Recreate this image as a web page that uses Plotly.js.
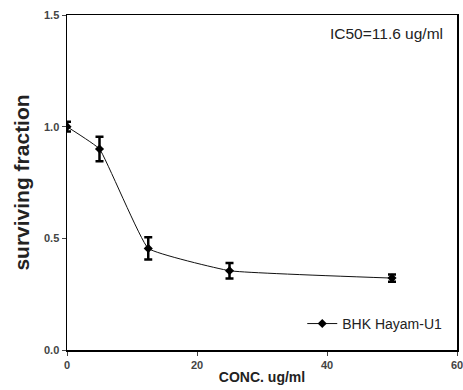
<!DOCTYPE html>
<html><head><meta charset="utf-8">
<script src="https://cdn.plot.ly/plotly-3.0.1.min.js"></script>
<style>html,body{margin:0;padding:0;background:#fff}</style>
</head><body>
<div id="chart" style="width:463px;height:390px"></div>
<script>
var seriesName = "BHK Hayam-U1";
var conc = [0, 5, 12.5, 25, 50];
var survival = [1.0, 0.9, 0.455, 0.355, 0.322];
var errors = [0.022, 0.055, 0.05, 0.035, 0.016];
var xTicks = [0, 20, 40, 60];
var yTicks = [0, 0.5, 1.0, 1.5];
var yTickLabels = ["0.0", "0.5", "1.0", "1.5"];
var annotationText = "IC50=11.6 ug/ml";

var trace = {
  x: conc, y: survival, name: seriesName, type: "scatter", mode: "lines+markers",
  line: {color: "#111", width: 1, shape: "spline", smoothing: 0.3},
  marker: {symbol: "diamond", size: 7, color: "#000"},
  error_y: {type: "data", array: errors, visible: true, color: "#000", thickness: 2.5, width: 4}
};
var layout = {
  width: 463, height: 390,
  margin: {l: 67, r: 6, t: 15, b: 40},
  paper_bgcolor: "#fff", plot_bgcolor: "#fff",
  font: {family: "Arial, Liberation Sans, sans-serif", color: "#000"},
  showlegend: true,
  legend: {x: 0.975, y: 0.03, xanchor: "right", yanchor: "bottom", bgcolor: "rgba(0,0,0,0)",
           font: {size: 14, color: "#222"}, itemwidth: 30},
  xaxis: {range: [0, 60], tickvals: xTicks, ticks: "outside", ticklen: 4, tickwidth: 1,
          showline: true, linecolor: "#000", linewidth: 1.5, mirror: true, showgrid: false, zeroline: false,
          ticklabeloverflow: "allow", automargin: false,
          tickfont: {size: 11, color: "#444", weight: "bold"},
          title: {text: "<b>CONC. ug/ml</b>", font: {size: 14, color: "#222"}, standoff: 2}},
  yaxis: {range: [0, 1.5], tickvals: yTicks, ticktext: yTickLabels, ticks: "outside", ticklen: 4, tickwidth: 1,
          showline: true, linecolor: "#000", linewidth: 1.5, mirror: true, showgrid: false, zeroline: false,
          tickfont: {size: 11, color: "#444", weight: "bold"},
          title: {text: "<b>surviving fraction</b>", font: {size: 21, color: "#222"}, standoff: 8}},
  annotations: [{text: annotationText, xref: "paper", yref: "paper", x: 0.97, y: 0.975,
                 xanchor: "right", yanchor: "top", showarrow: false, font: {size: 15.5, color: "#222"}}]
};
Plotly.newPlot("chart", [trace], layout, {displayModeBar: false, staticPlot: true});
</script>
</body></html>
